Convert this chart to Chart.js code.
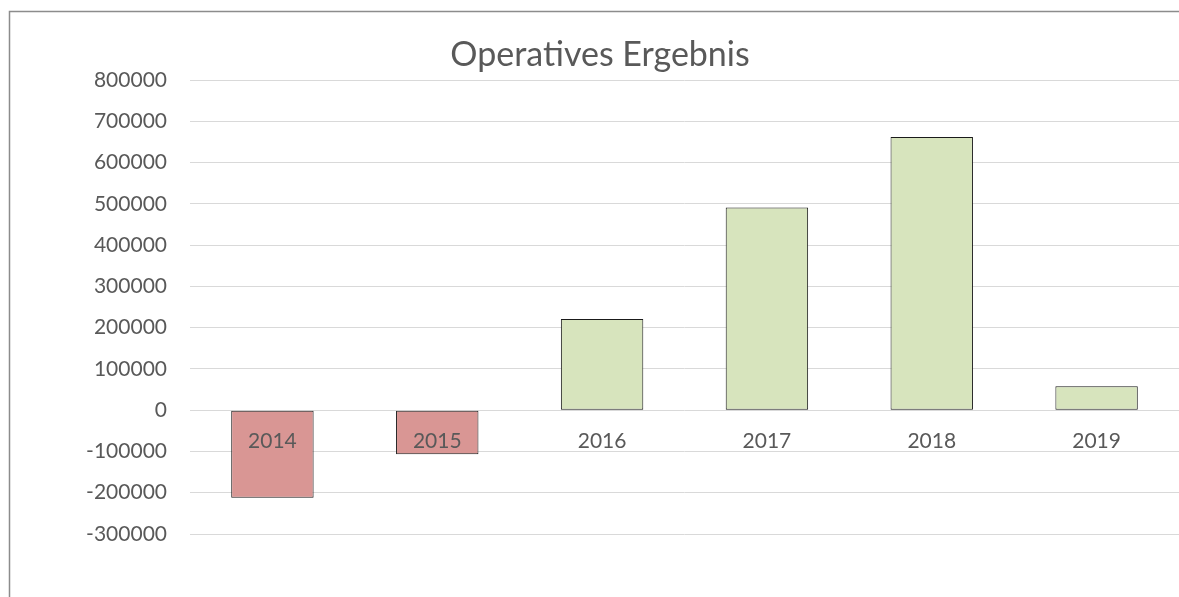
<!DOCTYPE html>
<html>
<head>
<meta charset="utf-8">
<script src="https://cdn.jsdelivr.net/npm/chart.js@4"></script>
<style>
  html, body { margin: 0; padding: 0; background: #fff; overflow: hidden; }
  #wrap { position: relative; width: 1179px; height: 597px; }
</style>
</head>
<body>
<div id="wrap"><canvas id="ergebnisChart"></canvas></div>
<script>
var years = ['2014', '2015', '2016', '2017', '2018', '2019'];
var ergebnis = [-212000, -107000, 221000, 491000, 662000, 58000];
var yMin = -300000;
var yMax = 800000;
var yStep = 100000;
var chartTitle = 'Operatives Ergebnis';

var textColor = '#595959';
var fontFamily = 'Lato, "Open Sans", sans-serif';

// Excel-like frame (cut off at right and bottom) and title
var frameAndTitle = {
  id: 'frameAndTitle',
  beforeDraw: function (chart) {
    var c = chart.ctx;
    c.save();
    c.strokeStyle = '#8c8c8c';
    c.lineWidth = 1.5;
    c.beginPath();
    c.moveTo(9.5, 600);
    c.lineTo(9.5, 11.5);
    c.lineTo(1200, 11.5);
    c.stroke();
    c.restore();
  },
  afterDraw: function (chart) {
    var c = chart.ctx;
    c.save();
    c.fillStyle = textColor;
    c.font = '34px ' + fontFamily;
    c.textAlign = 'center';
    c.textBaseline = 'middle';
    c.fillText(chartTitle, 600, 55);
    c.restore();
  }
};

document.addEventListener('DOMContentLoaded', function () {
  var ctx = document.getElementById('ergebnisChart').getContext('2d');
  new Chart(ctx, {
    type: 'bar',
    data: {
      labels: years,
      datasets: [{
        label: chartTitle,
        data: ergebnis,
        backgroundColor: ergebnis.map(function (v) { return v < 0 ? '#d99694' : '#d7e4bd'; }),
        borderColor: '#1a1a1a',
        borderWidth: 1,
        borderSkipped: false,
        categoryPercentage: 1,
        barPercentage: 0.5
      }]
    },
    options: {
      responsive: true,
      maintainAspectRatio: false,
      animation: false,
      layout: {
        padding: { top: 80, bottom: 63, left: 0, right: 0 }
      },
      plugins: {
        legend: { display: false },
        title: { display: false },
        tooltip: { enabled: false }
      },
      scales: {
        x: {
          position: { y: 0 },
          grid: { display: false, drawTicks: false },
          border: { display: false },
          ticks: {
            z: 1,
            color: textColor,
            font: { family: fontFamily, size: 21 },
            padding: 18,
            maxRotation: 0
          }
        },
        y: {
          min: yMin,
          max: yMax,
          afterFit: function (scale) { scale.width = 190; },
          grid: { color: '#d9d9d9', lineWidth: 1, drawTicks: false },
          border: { display: false },
          ticks: {
            stepSize: yStep,
            color: textColor,
            font: { family: fontFamily, size: 21 },
            padding: 23,
            callback: function (v) { return String(v); }
          }
        }
      }
    },
    plugins: [frameAndTitle]
  });
});
</script>
</body>
</html>
